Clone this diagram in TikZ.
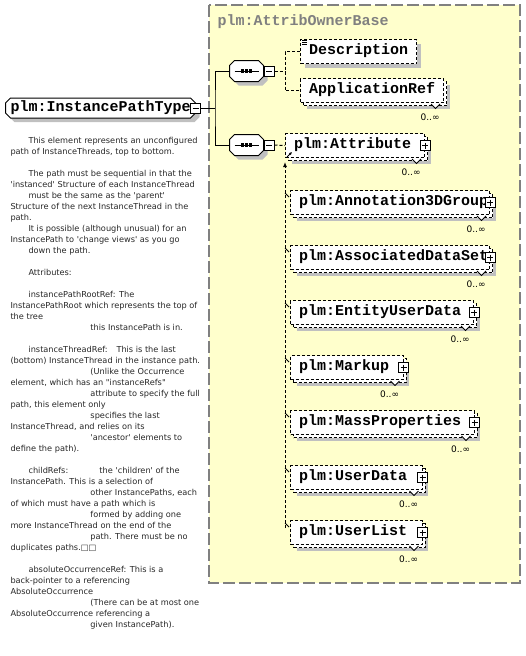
\documentclass[tikz,border=0pt]{standalone}
\usepackage{fontspec}
\setmonofont{Liberation Mono}
\newfontfamily\notefont{DejaVu Sans}[Ligatures=TeXOff]
\usetikzlibrary{shapes.misc,shadows,positioning,arrows.meta}
\definecolor{groupfill}{RGB}{255,255,204}
\definecolor{groupline}{RGB}{128,128,128}
\definecolor{shadowgray}{RGB}{192,192,192}
\newcommand{\noteind}{\hspace*{18pt}}
\newcommand{\notedeep}{\hspace*{80pt}}

\begin{document}
\begin{tikzpicture}[x=1pt,y=-1pt,line width=1pt,
  elname/.style={font=\ttfamily\bfseries\fontsize{15}{15}\selectfont},
  dashline/.style={dash pattern=on 3pt off 2pt},
  castshadow/.style={drop shadow={draw=none,fill=shadowgray,opacity=1,shadow xshift=#1,shadow yshift=-#1}},
  rootbox/.style={elname,draw,fill=white,chamfered rectangle,chamfered rectangle xsep=2.5pt,
    chamfered rectangle ysep=2.5pt,minimum height=20pt,inner xsep=2.5pt,inner ysep=0pt,
    text height=9pt,text depth=3pt,castshadow=4pt},
  seqbox/.style={minimum width=33pt,minimum height=20pt,inner sep=0pt},
  octagon/.style={draw,fill=white,castshadow=4pt},
  minusbox/.style={draw,solid,fill=white,minimum size=10pt,inner sep=0pt,
    path picture={\draw ([xshift=2pt]path picture bounding box.west) -- ([xshift=-2pt]path picture bounding box.east);}},
  plusbox/.style={draw,solid,fill=white,minimum size=10pt,inner sep=0pt,
    path picture={\draw ([xshift=2pt]path picture bounding box.west) -- ([xshift=-2pt]path picture bounding box.east)
      ([yshift=-2pt]path picture bounding box.north) -- ([yshift=2pt]path picture bounding box.south);}},
  elem/.style={elname,draw,dashline,fill=white,anchor=north west,minimum height=24pt,
    inner xsep=8.5pt,inner ysep=0pt,text height=9pt,text depth=3pt},
  elsingle/.style={elem,castshadow=4pt},
  elmulti/.style={elem,text width=#1,align=left,
    drop shadow={draw=none,fill=shadowgray,opacity=1,shadow xshift=6pt,shadow yshift=-6pt},
    copy shadow={draw=black,dashline,fill=white,opacity=1,shadow xshift=3pt,shadow yshift=-3pt}},
  multlabel/.style={font=\notefont\fontsize{9}{9}\selectfont,inner sep=0pt,anchor=east},
  notchtip/.style={solid,line width=0.8pt,fill=white},
  notetext/.style={font=\notefont\fontsize{8.2}{11}\selectfont,text=black!85,align=left,
    anchor=north west,inner sep=0pt}]
\useasboundingbox (0,0) rectangle (525,656);

% group
\draw[groupline,fill=groupfill,line width=1.5pt,dash pattern=on 12pt off 4pt] (209,5) rectangle (520,583);
\node[elname,text=groupline,anchor=base west,inner sep=0pt] (grouptitle) at (217,25) {plm:AttribOwnerBase};

\node[rootbox,anchor=west] (root) at (5,108) {plm:InstancePathType\hspace{5pt}};
\node[minusbox] (rootm) at ([xshift=-0.5pt]root.east) {};

% sequences
\node[seqbox] (seq1) at (246.5,71) {};
\node[seqbox] (seq2) at (246.5,145) {};
\foreach \s in {seq1,seq2}{
  \draw[octagon] ([xshift=5pt]\s.north west) -- ([xshift=-5pt]\s.north east) -- ([yshift=-5pt]\s.north east)
    -- ([yshift=5pt]\s.south east) -- ([xshift=-5pt]\s.south east) -- ([xshift=5pt]\s.south west)
    -- ([yshift=5pt]\s.south west) -- ([yshift=-5pt]\s.north west) -- cycle;
  \draw ([xshift=5pt]\s.west) -- ([xshift=-5pt]\s.east);
  \foreach \d in {-4,0,4}
    \fill ([xshift=\d pt]\s.center) +(-1.6,-1.6) rectangle +(1.6,1.6);
}
\node[minusbox,right=0pt of seq1] (seq1m) {};
\node[minusbox,right=0pt of seq2] (seq2m) {};

\node[elsingle] (desc) at (300,39) {Description};
\node[elmulti=126pt] (appref) at (300,78) {ApplicationRef};
\node[elmulti=122pt] (attr) at (285,133) {plm:Attribute};
\node[elmulti=182pt] (annot) at (290,190) {plm:Annotation3DGroup};
\node[elmulti=182pt] (assoc) at (290,245) {plm:AssociatedDataSet};
\node[elmulti=166pt] (entity) at (290,300) {plm:EntityUserData};
\node[elmulti=95.5pt] (markup) at (290,355) {plm:Markup};
\node[elmulti=166.5pt] (mass) at (290,410) {plm:MassProperties};
\node[elmulti=114.5pt] (udata) at (290,465) {plm:UserData};
\node[elmulti=114.5pt] (ulist) at (290,520) {plm:UserList};

\foreach \n in {attr,annot,assoc,entity,markup,mass,udata,ulist}
  \node[plusbox] (\n-plus) at (\n.east) {};
\foreach \n in {appref,attr,annot,assoc,entity,markup,mass,udata,ulist}{
  \draw[notchtip] ([shift={(-13,1)}]\n.south east) -- ++(4.5,4.5) -- ++(4.5,-4.5);
  \node[multlabel] (\n-mult) at ([shift={(-4,14)}]\n.south east) {0..∞};
}
\foreach \k in {1,3,5}
  \draw[line width=0.8pt] ([shift={(2,\k)}]desc.north west) -- ++(5,0);
\draw[line width=0.8pt,-{Latex[length=3pt,width=3pt]}] ([shift={(2,-1)}]attr.south west) -- ([shift={(7,-6)}]attr.south west);

\coordinate (trunk) at (215,108);
\coordinate (fork1) at (285,71);
\coordinate (subtop) at ([yshift=-4pt]attr.south west);
\draw (rootm.east) -- (trunk);
\draw (seq1.west) -| (trunk) |- (seq2.west);
\draw[dashline] (seq1m.east) -- (fork1);
\draw[dashline] (desc.west) -| (fork1) |- (appref.west);
\draw[dashline] (seq2m.east) -- (attr.west);
\draw[dashline,-{Latex[length=5pt,width=4pt]}] ([shift={(-5,8)}]ulist.north west) -- (subtop);
\foreach \n in {annot,assoc,entity,markup,mass,udata,ulist}
  \draw[line width=0.8pt] ([shift={(-5,3)}]\n.north west) -- ([shift={(-1,7)}]\n.north west);

\node[notetext] (doc) at (10,137) {%
\noteind This element represents an unconfigured\\
path of InstanceThreads, top to bottom.\\[11pt]
\noteind The path must be sequential in that the\\
'instanced' Structure of each InstanceThread\\
\noteind must be the same as the 'parent'\\
Structure of the next InstanceThread in the\\
path.\\
\noteind It is possible (although unusual) for an\\
InstancePath to 'change views' as you go\\
\noteind down the path.\\[11pt]
\noteind Attributes:\\[11pt]
\noteind instancePathRootRef: The\\
InstancePathRoot which represents the top of\\
the tree\\
\notedeep this InstancePath is in.\\[11pt]
\noteind\makebox[88pt][l]{instanceThreadRef:}This is the last\\
(bottom) InstanceThread in the instance path.\\
\notedeep (Unlike the Occurrence\\
element, which has an "instanceRefs"\\
\notedeep attribute to specify the full\\
path, this element only\\
\notedeep specifies the last\\
InstanceThread, and relies on its\\
\notedeep 'ancestor' elements to\\
define the path).\\[11pt]
\noteind\makebox[71pt][l]{childRefs:}the 'children' of the\\
InstancePath. This is a selection of\\
\notedeep other InstancePaths, each\\
of which must have a path which is\\
\notedeep formed by adding one\\
more InstanceThread on the end of the\\
\notedeep path. There must be no\\
duplicates paths.□□\\[11pt]
\noteind absoluteOccurrenceRef: This is a\\
back-pointer to a referencing\\
AbsoluteOccurrence\\
\notedeep (There can be at most one\\
AbsoluteOccurrence referencing a\\
\notedeep given InstancePath).};
\end{tikzpicture}
\end{document}
